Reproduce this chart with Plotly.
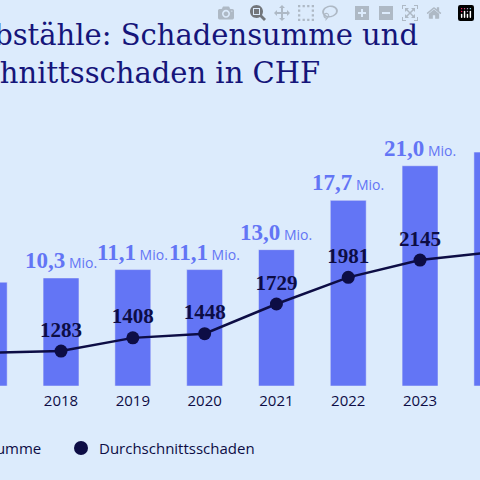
import plotly.graph_objects as go

years = [2017, 2018, 2019, 2020, 2021, 2022, 2023, 2024]
schadensumme = [9.9, 10.3, 11.1, 11.1, 13.0, 17.7, 21.0, 22.3]
schadensumme_lbl = ["9,9", "10,3", "11,1", "11,1", "13,0", "17,7", "21,0", "22,3"]
durchschnitt = [1268, 1283, 1408, 1448, 1729, 1981, 2145, 2220]

BG = "#dcebfc"
BAR = "#6375f5"
NAVY = "#0d0d45"
TITLE = "#15157a"

fig = go.Figure()
fig.add_trace(go.Bar(x=years, y=schadensumme, width=0.5, marker_color=BAR,
                     name="Schadensumme", yaxis="y", showlegend=False))
fig.add_trace(go.Scatter(x=years, y=durchschnitt, mode="lines+markers+text",
                         line=dict(color=NAVY, width=2.5),
                         marker=dict(size=13, color=NAVY),
                         text=[str(v) for v in durchschnitt], textposition="top center",
                         textfont=dict(family="Liberation Serif", size=21, color=NAVY, weight="bold"),
                         yaxis="y2", showlegend=False, cliponaxis=False))

for x, v, l in zip(years, schadensumme, schadensumme_lbl):
    fig.add_annotation(x=x, y=v, xref="x", yref="y", yshift=3, yanchor="bottom",
                       showarrow=False,
                       text=f"<span style='font-family:Liberation Serif;font-size:23px;font-weight:bold'>{l}</span>"
                            f"<span style='font-size:14px'> Mio.</span>",
                       font=dict(family="Open Sans", color=BAR, size=14))

fig.add_annotation(x=420, y=480-54, xref="paper", yref="paper", showarrow=False,
                   text="Velodiebstähle: Schadensumme und", xanchor="right", yanchor="bottom",
                   font=dict(family="DejaVu Serif", size=29, color=TITLE))
fig.add_annotation(x=322, y=480-92, xref="paper", yref="paper", showarrow=False,
                   text="Durchschnittsschaden in CHF", xanchor="right", yanchor="bottom",
                   font=dict(family="DejaVu Serif", size=29, color=TITLE))

# legend
fig.add_annotation(x=43, y=480-448, xref="paper", yref="paper", showarrow=False,
                   text="Schadensumme", xanchor="right", yanchor="middle",
                   font=dict(family="Open Sans", size=15, color=NAVY))
fig.add_shape(type="circle", xref="paper", yref="paper", x0=74, x1=88, y0=480-455, y1=480-441,
              fillcolor=NAVY, line_width=0)
fig.add_annotation(x=97, y=480-448, xref="paper", yref="paper", showarrow=False,
                   text="Durchschnittsschaden", xanchor="left", yanchor="middle",
                   font=dict(family="Open Sans", size=15, color=NAVY))

for a in fig.layout.annotations:
    if a.xref == "paper":
        a.x = a.x / 480
        a.y = a.y / 480
for s in fig.layout.shapes:
    s.x0 /= 480; s.x1 /= 480; s.y0 /= 480; s.y1 /= 480

fig.update_layout(
    width=480, height=480, margin=dict(l=0, r=0, t=0, b=0),
    paper_bgcolor=BG, plot_bgcolor=BG,
    xaxis=dict(range=[2017.15, 2023.835], tickvals=years, ticktext=[str(y) for y in years],
               showgrid=False, zeroline=False, showline=False,
               tickfont=dict(family="Open Sans", size=15, color=NAVY), ticks="", ticklabelstandoff=4),
    yaxis=dict(range=[0, 24.4], domain=[0.1958, 0.729], visible=False),
    yaxis2=dict(range=[952, 3376], overlaying="y", visible=False),
    bargap=0.5,
)
fig.write_html("out.html")

with open("out.html", encoding="utf-8") as f:
    html = f.read()
html = html.replace("<head>", "<head><style>html,body{margin:0;padding:0;background:%s;overflow:hidden}</style>" % BG, 1)
with open("out.html", "w", encoding="utf-8") as f:
    f.write(html)
